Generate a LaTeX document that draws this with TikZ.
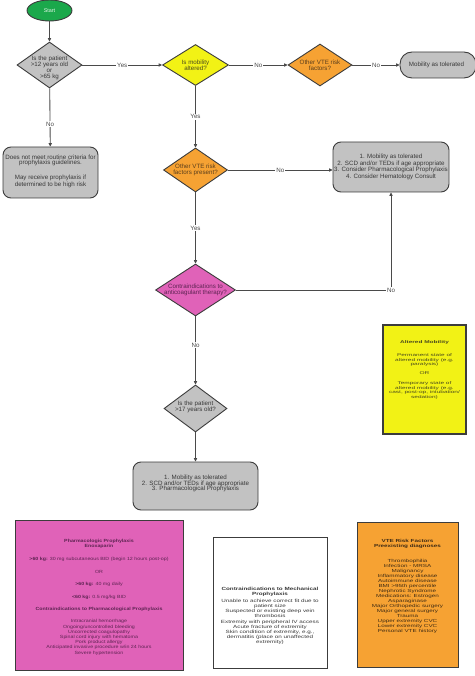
\documentclass[tikz,border=0pt]{standalone}
\usepackage{fontspec}
\usepackage{graphicx}
\setmainfont{Liberation Sans}
\usetikzlibrary{shapes.geometric,arrows.meta}
\definecolor{bord}{HTML}{3C3C3C}
\definecolor{lineC}{HTML}{4A4A4A}
\definecolor{gfill}{HTML}{C2C2C2}
\definecolor{grn}{HTML}{1BA84B}
\definecolor{ylw}{HTML}{F2F215}
\definecolor{org}{HTML}{F6A233}
\definecolor{pnk}{HTML}{E062B8}
\definecolor{txt}{HTML}{383838}
\definecolor{ytxt}{HTML}{4A4A1E}
\definecolor{otxt}{HTML}{5A3E1C}
\definecolor{ptxt}{HTML}{5E2452}
\newcommand{\vsq}[2]{\scalebox{1}[#1]{\begin{tabular}{@{}c@{}}#2\end{tabular}}}
\begin{document}
\begin{tikzpicture}[x=1pt,y=-1pt]
\tikzset{
 base/.style={font=\fontsize{6.2}{6.4}\selectfont, text=txt, align=center, inner sep=0pt},
 dia/.style={diamond, draw=bord, line width=0.9pt, inner sep=0pt},
 rbox/.style={draw=bord, line width=0.9pt, fill=gfill, rounded corners=8pt, inner sep=0pt},
 sbox/.style={draw=bord, line width=1pt, inner sep=0pt},
 conn/.style={draw=lineC, line width=0.85pt, -{Triangle[length=3.4pt,width=3.2pt]}},
 lab/.style={base, text=lineC, fill=white, inner sep=0.8pt},
}
\useasboundingbox (0,0) rectangle (474,676);
\fill[white] (0,0) rectangle (474,676);

% ---- flow nodes
\node[ellipse, draw=bord, line width=0.9pt, fill=grn, minimum width=45pt, minimum height=21pt, inner sep=0pt] (start) at (49.5,10.5) {};
\node[base, text=white!88!grn, font=\fontsize{5.4}{6}\selectfont] (startT) at (start) {Start};

\node[dia, fill=gfill, minimum width=65pt, minimum height=46pt] (d1) at (49.5,65) {};
\node[base, font=\fontsize{6.2}{6}\selectfont] (d1T) at (49.5,67.5) {Is the patient\\>12 years old\\or\\>65 kg};

\node[dia, fill=ylw, minimum width=66pt, minimum height=41pt] (d2) at (195.5,65) {};
\node[base, text=ytxt] (d2T) at (195.5,65.5) {Is mobility\\altered?};

\node[dia, fill=org, minimum width=64pt, minimum height=42pt] (d3) at (320,65) {};
\node[base, text=otxt] (d3T) at (d3) {Other VTE risk\\factors?};

\node[rbox, rounded corners=12pt, minimum width=76pt, minimum height=26pt] (pill) at (438,65) {};
\node[base] (pillT) at (436.5,65) {Mobility as tolerated};

\node[rbox, minimum width=95pt, minimum height=51pt] (g1) at (50.5,172.5) {};
\node[base, font=\fontsize{6.2}{5.6}\selectfont] (g1T) at (50.5,171) {Does not meet routine criteria for\\prophylaxis guidelines.\\[8pt]May receive prophylaxis if\\determined to be high risk};

\node[dia, fill=org, minimum width=64pt, minimum height=44pt] (d4) at (195.5,170) {};
\node[base, text=otxt] (d4T) at (d4) {Other VTE risk\\factors present?};

\node[rbox, minimum width=116pt, minimum height=50pt] (big) at (391,167) {};
\node[base, font=\fontsize{6.2}{6.6}\selectfont] (bigT) at (391,167) {1. Mobility as tolerated\\2. SCD and/or TEDs if age appropriate\\3. Consider Pharmacological Prophylaxis\\4. Consider Hematology Consult};

\node[dia, fill=pnk, minimum width=80pt, minimum height=52pt] (d5) at (195.5,290) {};
\node[base, text=ptxt] (d5T) at (d5) {Contraindications to\\anticoagulant therapy?};

\node[dia, fill=gfill, minimum width=63pt, minimum height=47pt] (d6) at (195.5,408.5) {};
\node[base] (d6T) at (195.5,407) {Is the patient\\>17 years old?};

\node[rbox, minimum width=125pt, minimum height=48pt] (bot) at (195.5,486) {};
\node[base, font=\fontsize{6.2}{5.8}\selectfont] (botT) at (195.5,483.5) {1. Mobility as tolerated\\2. SCD and/or TEDs if age appropriate\\3. Pharmacological Prophylaxis};

% ---- info boxes
\node[sbox, fill=ylw, line width=1.2pt, minimum width=83pt, minimum height=109pt] (ybox) at (424.5,379.5) {};
\node[base, text=ytxt, font=\fontsize{6.5}{7.4}\selectfont] (yT) at (424.5,370) {\vsq{0.62}{\textbf{Altered Mobility}\\[13.5pt]Permanent state of\\altered mobility (e.g.\\paralysis)\\[7pt]OR\\[8.7pt]Temporary state of\\altered mobility (e.g.\\cast, post-op, intubation/\\sedation)}};

\node[sbox, fill=pnk, minimum width=168pt, minimum height=150pt] (pbox) at (99,595) {};
\node[base, text=ptxt, font=\fontsize{5.3}{6.1}\selectfont] (pT) at (99,597) {\vsq{0.85}{\textbf{Pharmacologic Prophylaxis}\\\textbf{Enoxaparin}\\[10pt]\textbf{>60 kg:} 30 mg subcutaneous BID (begin 12 hours post-op)\\[8.6pt]OR\\[8.6pt]\textbf{>60 kg:} 40 mg daily\\[8.6pt]\textbf{<60 kg:} 0.5 mg/kg BID\\[8.6pt]\textbf{Contraindications to Pharmacological Prophylaxis}\\[8pt]Intracranial hemorrhage\\Ongoing/uncontrolled bleeding\\Uncorrected coagulopathy\\Spinal cord injury with hematoma\\Pork product allergy\\Anticipated invasive procedure w/in 24 hours\\Severe hypertension}};

\node[sbox, fill=white, minimum width=114pt, minimum height=131pt] (wbox) at (270,602.5) {};
\node[base, font=\fontsize{6.3}{7.2}\selectfont] (wT) at (270,616) {\vsq{0.72}{\textbf{Contraindications to Mechanical}\\\textbf{Prophylaxis}\\[2.5pt]Unable to achieve correct fit due to\\patient size\\Suspected or existing deep vein\\thrombosis\\Extremity with peripheral IV access\\Acute fracture of extremity\\Skin condition of extremity, e.g.,\\dermatitis (place on unaffected\\extremity)}};

\node[sbox, fill=org, minimum width=101pt, minimum height=145pt] (obox) at (407.5,594.5) {};
\node[base, text=otxt!70!black, font=\fontsize{6.3}{7.2}\selectfont] (oT) at (407.5,586.5) {\vsq{0.7}{\textbf{VTE Risk Factors}\\\textbf{Preexisting diagnoses}\\[14pt]Thrombophilia\\Infection - MRSA\\Malignancy\\Inflammatory disease\\Autoimmune disease\\BMI >95th percentile\\Nephrotic Syndrome\\Medications: Estrogen\\Asparaginase\\Major Orthopedic surgery\\Major general surgery\\Trauma\\Upper extremity CVC\\Lower extremity CVC\\Personal VTE history}};

% ---- connectors
\draw[conn] (start) -- (d1);
\draw[conn] (d1) -- node[lab]{Yes} (d2);
\draw[conn] (d2) -- node[lab]{No} (d3);
\draw[conn] (d3) -- node[lab]{No} (pill);
\draw[conn] (d1) -- node[lab, pos=0.62]{No} (g1);
\draw[conn] (d2) -- node[lab]{Yes} (d4);
\draw[conn] (d4.east) -- node[lab]{No} (d4.east -| big.west);
\draw[conn] (d4) -- node[lab]{Yes} (d5);
\draw[conn] (d5.east) -- (d5.east -| big.south) node[lab]{No} -- (big.south);
\draw[conn] (d5) -- node[lab, pos=0.42]{No} (d6);
\draw[conn] (d6) -- (bot);
\end{tikzpicture}
\end{document}
